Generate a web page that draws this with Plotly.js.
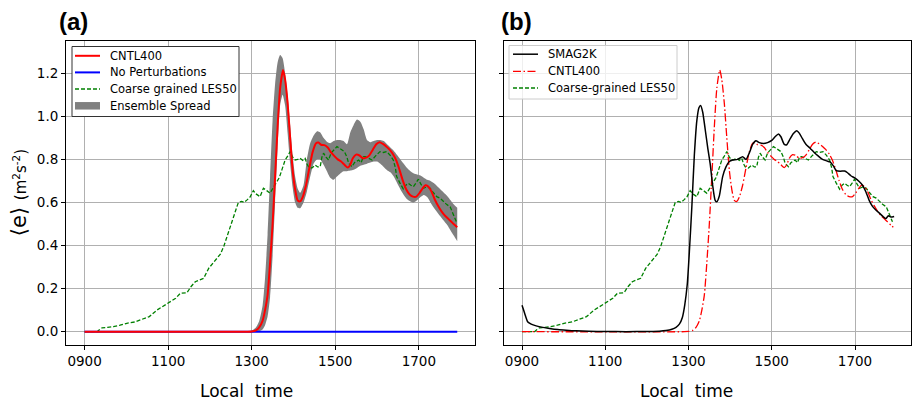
<!DOCTYPE html>
<html>
<head>
<meta charset="utf-8">
<script src="https://cdn.plot.ly/plotly-3.0.1.min.js"></script>
<style>html,body{margin:0;padding:0;background:#fff}#chart{width:912px;height:403px}</style>
</head>
<body>
<div id="chart"></div>
<script>
// ---- data (time in decimal hours local time) ----
const tickVals = [9, 11, 13, 15, 17];
const tickText = ["0900", "1100", "1300", "1500", "1700"];

const cntlTime = [9.0, 12.9, 13.0, 13.1, 13.18, 13.26, 13.32, 13.38, 13.44, 13.5, 13.56, 13.62, 13.68, 13.75, 13.8, 13.86, 13.92, 13.98, 14.04, 14.1, 14.16, 14.22, 14.3, 14.38, 14.46, 14.54, 14.6, 14.66, 14.74, 14.82, 14.9, 14.98, 15.06, 15.14, 15.22, 15.3, 15.36, 15.42, 15.5, 15.58, 15.66, 15.74, 15.82, 15.9, 15.98, 16.06, 16.14, 16.22, 16.3, 16.38, 16.46, 16.54, 16.62, 16.7, 16.78, 16.86, 16.94, 17.02, 17.1, 17.16, 17.22, 17.3, 17.38, 17.46, 17.54, 17.62, 17.7, 17.78, 17.86, 17.92];
const cntlValue = [0, 0, 0.001, 0.006, 0.02, 0.05, 0.1, 0.17, 0.32, 0.5, 0.72, 0.95, 1.13, 1.215, 1.17, 1.06, 0.9, 0.75, 0.66, 0.61, 0.605, 0.625, 0.68, 0.76, 0.835, 0.875, 0.878, 0.868, 0.866, 0.855, 0.832, 0.815, 0.8, 0.79, 0.775, 0.762, 0.775, 0.805, 0.822, 0.818, 0.805, 0.808, 0.82, 0.845, 0.87, 0.88, 0.872, 0.86, 0.845, 0.825, 0.795, 0.75, 0.7, 0.66, 0.637, 0.627, 0.627, 0.645, 0.668, 0.68, 0.675, 0.652, 0.615, 0.585, 0.56, 0.54, 0.525, 0.51, 0.495, 0.485];

const noPertTime = [9.0, 17.92];
const noPertValue = [0, 0];

const lesTime = [9.0, 9.3, 9.36, 9.42, 9.55, 9.69, 9.85, 10.01, 10.2, 10.41, 10.55, 10.73, 10.9, 11.05, 11.18, 11.29, 11.45, 11.55, 11.65, 11.85, 11.97, 12.08, 12.17, 12.25, 12.33, 12.41, 12.49, 12.56, 12.61, 12.68, 12.76, 12.82, 12.89, 12.96, 13.04, 13.1, 13.2, 13.28, 13.36, 13.44, 13.52, 13.6, 13.66, 13.72, 13.8, 13.86, 13.92, 13.98, 14.04, 14.1, 14.16, 14.22, 14.28, 14.32, 14.36, 14.44, 14.52, 14.58, 14.64, 14.68, 14.72, 14.78, 14.84, 14.9, 14.96, 15.04, 15.1, 15.16, 15.22, 15.28, 15.32, 15.4, 15.46, 15.56, 15.62, 15.67, 15.72, 15.8, 15.88, 15.96, 16.07, 16.15, 16.23, 16.31, 16.39, 16.44, 16.47, 16.55, 16.63, 16.69, 16.75, 16.81, 16.87, 16.93, 16.99, 17.05, 17.11, 17.19, 17.27, 17.35, 17.43, 17.51, 17.59, 17.67, 17.75, 17.82, 17.9];
const lesValue = [0, 0, 0.01, 0.018, 0.02, 0.023, 0.03, 0.039, 0.045, 0.058, 0.07, 0.1, 0.12, 0.139, 0.155, 0.178, 0.181, 0.21, 0.232, 0.248, 0.294, 0.32, 0.341, 0.36, 0.395, 0.44, 0.488, 0.53, 0.557, 0.6, 0.605, 0.6, 0.612, 0.625, 0.655, 0.64, 0.627, 0.666, 0.655, 0.643, 0.67, 0.697, 0.715, 0.75, 0.797, 0.815, 0.836, 0.81, 0.797, 0.8, 0.805, 0.795, 0.805, 0.78, 0.766, 0.76, 0.774, 0.765, 0.766, 0.81, 0.829, 0.81, 0.797, 0.83, 0.844, 0.859, 0.852, 0.844, 0.836, 0.81, 0.782, 0.766, 0.785, 0.797, 0.785, 0.813, 0.813, 0.805, 0.797, 0.815, 0.836, 0.832, 0.836, 0.82, 0.797, 0.76, 0.72, 0.69, 0.662, 0.68, 0.689, 0.68, 0.673, 0.69, 0.708, 0.685, 0.666, 0.672, 0.666, 0.645, 0.627, 0.62, 0.604, 0.59, 0.58, 0.55, 0.51];

const spreadTime = [12.9, 13.0, 13.1, 13.18, 13.26, 13.32, 13.38, 13.44, 13.5, 13.56, 13.62, 13.68, 13.74, 13.8, 13.86, 13.92, 13.98, 14.04, 14.1, 14.16, 14.24, 14.32, 14.4, 14.48, 14.56, 14.64, 14.72, 14.8, 14.88, 14.96, 15.04, 15.12, 15.2, 15.28, 15.36, 15.44, 15.52, 15.6, 15.68, 15.76, 15.84, 15.92, 16.0, 16.08, 16.16, 16.24, 16.32, 16.4, 16.48, 16.56, 16.64, 16.72, 16.8, 16.88, 16.96, 17.04, 17.12, 17.2, 17.28, 17.36, 17.44, 17.52, 17.6, 17.68, 17.76, 17.84, 17.92];
const spreadUpper = [0, 0.005, 0.02, 0.05, 0.12, 0.25, 0.45, 0.72, 0.98, 1.15, 1.25, 1.285, 1.27, 1.2, 1.1, 0.96, 0.82, 0.72, 0.665, 0.645, 0.68, 0.8, 0.875, 0.91, 0.93, 0.925, 0.9, 0.882, 0.875, 0.885, 0.89, 0.89, 0.885, 0.87, 0.925, 0.96, 0.985, 0.975, 0.94, 0.89, 0.88, 0.885, 0.89, 0.89, 0.885, 0.87, 0.855, 0.84, 0.82, 0.8, 0.78, 0.76, 0.745, 0.735, 0.73, 0.725, 0.715, 0.705, 0.7, 0.69, 0.675, 0.66, 0.645, 0.63, 0.61, 0.59, 0.575];
const spreadLower = [0, 0, 0, 0.002, 0.01, 0.03, 0.07, 0.16, 0.35, 0.6, 0.85, 1.05, 1.1, 1.05, 0.92, 0.78, 0.67, 0.6, 0.575, 0.573, 0.6, 0.65, 0.72, 0.78, 0.8, 0.8, 0.775, 0.745, 0.715, 0.705, 0.72, 0.735, 0.745, 0.745, 0.748, 0.752, 0.76, 0.77, 0.775, 0.78, 0.785, 0.79, 0.79, 0.78, 0.765, 0.75, 0.74, 0.72, 0.69, 0.66, 0.635, 0.615, 0.605, 0.6, 0.61, 0.625, 0.635, 0.625, 0.6, 0.575, 0.555, 0.535, 0.515, 0.495, 0.47, 0.445, 0.42];

const smagTime = [9.0, 9.04, 9.08, 9.14, 9.22, 9.34, 9.5, 9.66, 9.86, 10.06, 10.3, 10.6, 11.0, 11.5, 12.0, 12.3, 12.46, 12.6, 12.7, 12.78, 12.85, 12.91, 12.97, 13.02, 13.08, 13.14, 13.2, 13.25, 13.29, 13.34, 13.4, 13.46, 13.52, 13.58, 13.64, 13.68, 13.74, 13.82, 13.9, 13.98, 14.06, 14.18, 14.3, 14.38, 14.46, 14.54, 14.62, 14.7, 14.8, 14.9, 15.0, 15.08, 15.16, 15.22, 15.3, 15.36, 15.44, 15.52, 15.6, 15.66, 15.74, 15.82, 15.92, 16.02, 16.12, 16.22, 16.32, 16.4, 16.48, 16.55, 16.65, 16.75, 16.82, 16.9, 17.0, 17.1, 17.18, 17.26, 17.34, 17.42, 17.5, 17.6, 17.68, 17.74, 17.8, 17.86, 17.94];
const smagValue = [0.123, 0.1, 0.075, 0.045, 0.035, 0.027, 0.02, 0.015, 0.01, 0.007, 0.004, 0.002, 0.001, 0, 0.001, 0.002, 0.005, 0.011, 0.02, 0.035, 0.065, 0.125, 0.22, 0.37, 0.58, 0.82, 0.98, 1.04, 1.05, 1.02, 0.94, 0.856, 0.78, 0.68, 0.61, 0.603, 0.63, 0.72, 0.765, 0.79, 0.797, 0.8, 0.812, 0.8, 0.83, 0.87, 0.887, 0.878, 0.874, 0.878, 0.888, 0.905, 0.918, 0.905, 0.87, 0.868, 0.895, 0.92, 0.933, 0.922, 0.895, 0.87, 0.852, 0.832, 0.815, 0.8, 0.793, 0.788, 0.77, 0.748, 0.745, 0.746, 0.738, 0.724, 0.713, 0.697, 0.68, 0.65, 0.61, 0.582, 0.565, 0.548, 0.533, 0.525, 0.538, 0.532, 0.535];

const legendANames = ["CNTL400", "No Perturbations", "Coarse grained LES50", "Ensemble Spread"];
const legendBNames = ["SMAG2K", "CNTL400", "Coarse-grained LES50"];

// ---- layout geometry ----
const W = 912, H = 403;
const px = v => v / W, py = v => 1 - v / H;
const xRange = [8.555, 18.345];
const yRange = [-0.0595, 1.352];
const tickFont = {family: "DejaVu Sans", size: 13.5, color: "#000"};

const RED = "#ff0000", BLUE = "#0000ff", GREEN = "#008000", GRAY = "#808080";
const lesDash = "4px,2px", cntlDashDot = "8px,2.5px,1.5px,2.5px";

function xAxis(dom) {
  return {domain: dom, range: xRange, tickvals: tickVals, ticktext: tickText,
    showgrid: true, gridcolor: "#b0b0b0", gridwidth: 1, zeroline: false,
    showline: true, mirror: true, linecolor: "#000", linewidth: 1,
    ticks: "outside", ticklen: 4, tickcolor: "#000", tickfont: tickFont};
}
function yAxis(anchor, labels) {
  return {domain: [py(344.5), py(40.5)], range: yRange, anchor: anchor,
    tickvals: [0, 0.2, 0.4, 0.6, 0.8, 1.0, 1.2], tickformat: ".1f",
    showticklabels: labels, showgrid: true, gridcolor: "#b0b0b0", gridwidth: 1, zeroline: false,
    showline: true, mirror: true, linecolor: "#000", linewidth: 1,
    ticks: "outside", ticklen: 4, tickcolor: "#000", tickfont: tickFont};
}

const traces = [
  {x: spreadTime, y: spreadLower, xaxis: "x", yaxis: "y", mode: "lines", line: {width: 0, shape: "spline", smoothing: 0.6}, hoverinfo: "skip"},
  {x: spreadTime, y: spreadUpper, xaxis: "x", yaxis: "y", mode: "lines", name: legendANames[3], fill: "tonexty", fillcolor: GRAY, line: {width: 0, color: GRAY, shape: "spline", smoothing: 0.6}},
  {x: lesTime, y: lesValue, xaxis: "x", yaxis: "y", mode: "lines", name: legendANames[2], line: {color: GREEN, width: 1.3, dash: lesDash}},
  {x: noPertTime, y: noPertValue, xaxis: "x", yaxis: "y", mode: "lines", name: legendANames[1], line: {color: BLUE, width: 2}},
  {x: cntlTime, y: cntlValue, xaxis: "x", yaxis: "y", mode: "lines", name: legendANames[0], line: {color: RED, width: 2, shape: "spline", smoothing: 0.6}},

  {x: lesTime, y: lesValue, xaxis: "x2", yaxis: "y2", mode: "lines", name: legendBNames[2], line: {color: GREEN, width: 1.3, dash: lesDash}},
  {x: cntlTime, y: cntlValue, xaxis: "x2", yaxis: "y2", mode: "lines", name: legendBNames[1], line: {color: RED, width: 1.3, dash: cntlDashDot, shape: "spline", smoothing: 0.6}},
  {x: smagTime, y: smagValue, xaxis: "x2", yaxis: "y2", mode: "lines", name: legendBNames[0], line: {color: "#000", width: 1.5, shape: "spline", smoothing: 0.6}}
];

// ---- hand-built legends (matplotlib-like spacing) ----
const shapes = [];
const annotations = [];
function legendBox(x0, x1, y0, y1, border, fill) {
  shapes.push({type: "rect", xref: "paper", yref: "paper", x0: px(x0), x1: px(x1), y0: py(y0), y1: py(y1),
    line: {color: border, width: 1}, fillcolor: fill, layer: "above"});
}
function legendLine(x0, x1, y, color, width, dash) {
  shapes.push({type: "line", xref: "paper", yref: "paper", x0: px(x0), x1: px(x1), y0: py(y), y1: py(y),
    line: {color: color, width: width, dash: dash || "solid"}, layer: "above"});
}
function legendPatch(x0, x1, y, h, color) {
  shapes.push({type: "rect", xref: "paper", yref: "paper", x0: px(x0), x1: px(x1), y0: py(y - h / 2), y1: py(y + h / 2),
    line: {width: 0}, fillcolor: color, layer: "above"});
}
const legFont = {family: "DejaVu Sans", size: 11.5, color: "#000"};
function legendText(x, y, text) {
  annotations.push({text: text, xref: "paper", yref: "paper", x: px(x), y: py(y), xanchor: "left", yanchor: "middle",
    showarrow: false, font: legFont});
}

// legend (a)
legendBox(72, 239, 46.5, 116.5, "#333333", "#ffffff");
const rowsA = [55.8, 72.4, 89, 105.8];
legendLine(75, 100, rowsA[0], RED, 2);
legendLine(75, 100, rowsA[1], BLUE, 2);
legendLine(75, 100, rowsA[2], GREEN, 1.3, lesDash);
legendPatch(75, 100, rowsA[3], 7.5, GRAY);
legendANames.forEach((n, i) => legendText(108, rowsA[i], n));

// legend (b)
legendBox(509, 677, 45.5, 99, "#cccccc", "rgba(255,255,255,0.8)");
const rowsB = [54.2, 71.3, 88];
legendLine(513, 538, rowsB[0], "#000", 1.5);
legendLine(513, 538, rowsB[1], RED, 1.3, cntlDashDot);
legendLine(513, 538, rowsB[2], GREEN, 1.3, lesDash);
legendBNames.forEach((n, i) => legendText(546, rowsB[i], n));

// panel labels and x titles
annotations.push(
  {text: "<b>(a)</b>", xref: "paper", yref: "paper", x: px(73.5), y: py(21.5), xanchor: "center", yanchor: "middle", showarrow: false, font: {family: "Liberation Sans", size: 24, color: "#000"}},
  {text: "<b>(b)</b>", xref: "paper", yref: "paper", x: px(516), y: py(21.5), xanchor: "center", yanchor: "middle", showarrow: false, font: {family: "Liberation Sans", size: 24, color: "#000"}},
  {text: "Local\u00a0 time", xref: "paper", yref: "paper", x: px(246), y: py(391), xanchor: "center", yanchor: "middle", showarrow: false, font: {family: "DejaVu Sans", size: 17, color: "#000"}},
  {text: "Local\u00a0 time", xref: "paper", yref: "paper", x: px(686), y: py(391), xanchor: "center", yanchor: "middle", showarrow: false, font: {family: "DejaVu Sans", size: 17, color: "#000"}}
);

const layout = {
  width: W, height: H, margin: {l: 0, r: 0, t: 0, b: 0},
  paper_bgcolor: "#fff", plot_bgcolor: "#fff", showlegend: false,
  xaxis: xAxis([px(66), px(475)]),
  yaxis: Object.assign(yAxis("x", true), {title: {text: "⟨e⟩ <span style=\"font-size:15px\">(m<sup>2</sup>s<sup>-2</sup>)</span>", font: {family: "DejaVu Sans", size: 21, color: "#000"}, standoff: 4}}),
  xaxis2: xAxis([px(503.5), px(911)]),
  yaxis2: yAxis("x2", false),
  shapes: shapes,
  annotations: annotations
};

Plotly.newPlot("chart", traces, layout, {displayModeBar: false, staticPlot: true});
</script>
</body>
</html>
